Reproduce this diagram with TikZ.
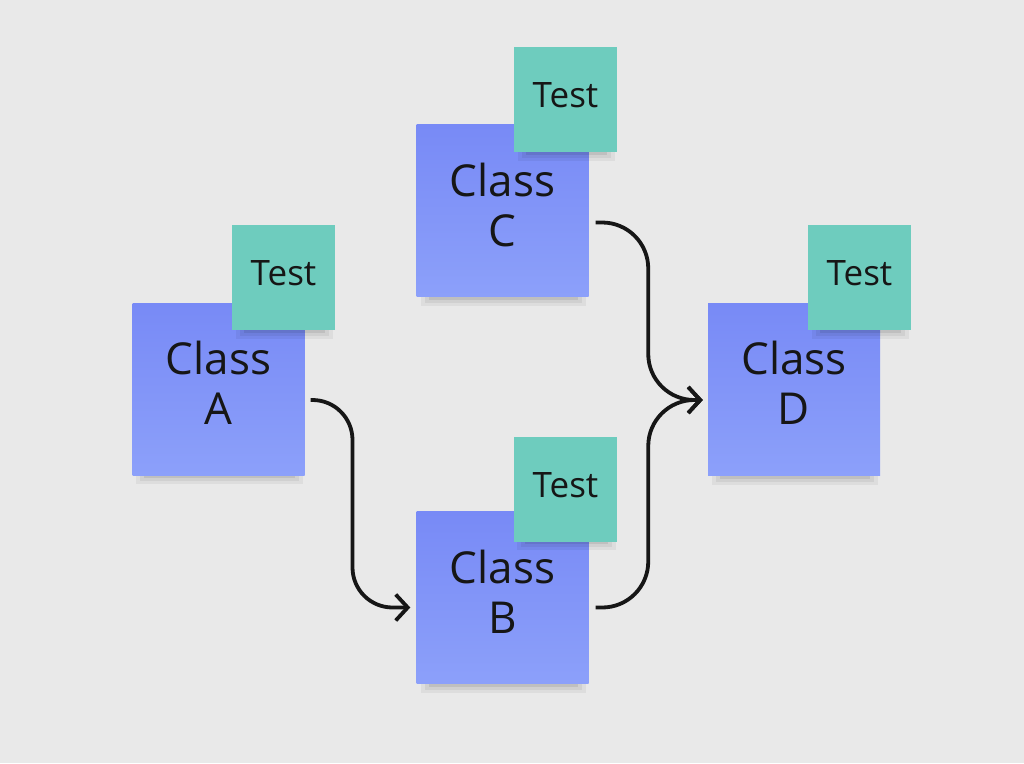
\documentclass[tikz,border=0pt]{standalone}
\usepackage{fontspec}
\setmainfont{Open Sans}
\usetikzlibrary{arrows.meta,calc}
\definecolor{bg}{RGB}{233,233,233}
\definecolor{bluetop}{RGB}{120,138,246}
\definecolor{bluebot}{RGB}{140,160,250}
\definecolor{teal}{RGB}{110,204,190}
\definecolor{ink}{RGB}{22,22,22}
\tikzset{
  classnote/.style={minimum width=172pt,minimum height=172pt,inner sep=0pt,
    top color=bluetop,bottom color=bluebot},
  classtext/.style={inner sep=0pt,align=center,
    font=\fontsize{44pt}{50pt}\selectfont,text=ink},
  testnote/.style={minimum width=103pt,minimum height=105pt,inner sep=0pt,
    fill=teal},
  testtext/.style={inner sep=0pt,font=\fontsize{35pt}{40pt}\selectfont,text=ink},
  conn/.style={draw=ink,line width=3.8pt,rounded corners=46pt,
    -{Straight Barb[length=12pt,width=26pt]}},
}
\newcommand{\noteshadow}[4]{% x1,y1,x2,y2 of the note
  \fill[black,opacity=0.05] (#1+4,#4-12) rectangle (#3-2,#4+9);
  \fill[black,opacity=0.06] (#1+8,#4-8) rectangle (#3-6,#4+6);
  \fill[black,opacity=0.08] (#1+12,#4-5) rectangle (#3-10,#4+3);
}
\begin{document}
\begin{tikzpicture}[x=1pt,y=-1pt]
\fill[bg] (0,0) rectangle (1024,763);
\useasboundingbox (0,0) rectangle (1024,763);
% shadows of class notes
\noteshadow{132}{303}{305}{475}
\noteshadow{417}{124}{588}{297}
\noteshadow{417}{511}{588}{684}
\noteshadow{708}{302}{880}{476}
% class notes
\node[classnote] (A) at (218.5,389) {};
\node[classnote] (C) at (502.5,210.5) {};
\node[classnote] (B) at (502.5,597.5) {};
\node[classnote] (D) at (794,389) {};
\node[classtext] (Atxt) at ($(A.center)+(0,-6)$) {Class\\A};
\node[classtext] (Ctxt) at ($(C.center)+(0,-6)$) {Class\\C};
\node[classtext] (Btxt) at ($(B.center)+(0,-6)$) {Class\\B};
\node[classtext] (Dtxt) at ($(D.center)+(0,-6)$) {Class\\D};
% shadows of test notes
\noteshadow{232}{225}{335}{330}
\noteshadow{514}{47}{617}{152}
\noteshadow{513}{437}{618}{541}
\noteshadow{808}{225}{911}{330}
% test notes
\node[testnote] (tA) at (283.5,277.5) {};
\node[testnote] (tC) at (565.5,99.5) {};
\node[testnote] (tB) at (565.5,489) {};
\node[testnote] (tD) at (859.5,277.5) {};
\node[testtext] (tAtxt) at ($(tA.center)+(0,-4)$) {Test};
\node[testtext] (tCtxt) at ($(tC.center)+(0,-4)$) {Test};
\node[testtext] (tBtxt) at ($(tB.center)+(0,-4)$) {Test};
\node[testtext] (tDtxt) at ($(tD.center)+(0,-4)$) {Test};
% connector anchors
\coordinate (aout) at ($(A.east)+(6,11)$);
\coordinate (bin) at ($(B.west)+(-6,10)$);
\coordinate (bout) at ($(B.east)+(7,10)$);
\coordinate (cout) at ($(C.east)+(7,12)$);
\coordinate (din) at ($(D.west)+(-5,11)$);
\draw[conn,rounded corners=40pt] (aout) -| ($(aout)!0.5!(bin)+(-8,0)$) |- (bin);
\draw[conn] (cout) -| ($(cout)!0.5!(din)+(-1,0)$) |- (din);
\draw[conn] (bout) -| ($(bout)!0.5!(din)+(-1,0)$) |- (din);
\end{tikzpicture}
\end{document}
